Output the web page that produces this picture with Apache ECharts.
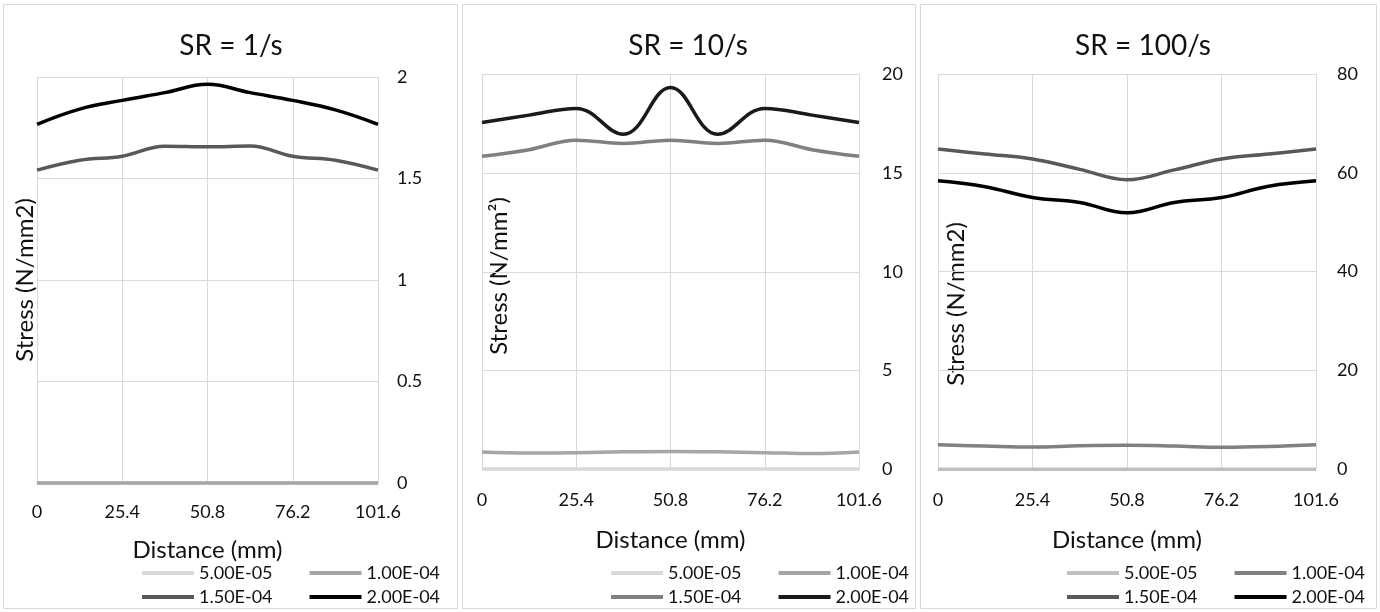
<!DOCTYPE html>
<html>
<head>
<meta charset="utf-8">
<script src="https://cdn.jsdelivr.net/npm/echarts@6/dist/echarts.min.js"></script>
<style>
html,body{margin:0;padding:0;background:#fff;}
#chart{width:1380px;height:612px;}
</style>
</head>
<body>
<div id="chart"></div>
<script>
// ---- data ----
var xValues = [0, 12.7, 25.4, 38.1, 50.8, 63.5, 76.2, 88.9, 101.6];
var xTicks = ['0', '25.4', '50.8', '76.2', '101.6'];
var seriesNames = ['5.00E-05', '1.00E-04', '1.50E-04', '2.00E-04'];
var panelTitles = ['SR = 1/s', 'SR = 10/s', 'SR = 100/s'];
var yNames = ['Stress (N/mm2)', 'Stress (N/mm²)', 'Stress (N/mm2)'];
var xName = 'Distance (mm)';

// SR = 1/s
var sr1_5e5  = [0, 0, 0, 0, 0, 0, 0, 0, 0];
var sr1_1e4  = [0, 0, 0, 0, 0, 0, 0, 0, 0];
var sr1_15e4 = [1.541, 1.590, 1.610, 1.659, 1.656, 1.660, 1.610, 1.590, 1.541];
var sr1_2e4  = [1.767, 1.842, 1.885, 1.923, 1.964, 1.923, 1.885, 1.838, 1.767];
// SR = 10/s
var sr10_5e5  = [0, 0, 0, 0, 0, 0, 0, 0, 0];
var sr10_1e4  = [0.86, 0.81, 0.83, 0.87, 0.89, 0.87, 0.83, 0.78, 0.86];
var sr10_15e4 = [15.85, 16.19, 16.67, 16.50, 16.67, 16.50, 16.67, 16.19, 15.85];
var sr10_2e4  = [17.57, 17.94, 18.28, 16.97, 19.34, 16.97, 18.28, 17.94, 17.57];
// SR = 100/s
var sr100_5e5  = [0, 0, 0, 0, 0, 0, 0, 0, 0];
var sr100_1e4  = [4.97, 4.7, 4.5, 4.75, 4.85, 4.7, 4.45, 4.6, 4.97];
var sr100_15e4 = [64.8, 63.8, 62.8, 60.7, 58.6, 60.6, 62.8, 63.8, 64.8];
var sr100_2e4  = [58.4, 57.2, 55.0, 54.0, 51.9, 54.0, 55.0, 57.3, 58.4];

var yMax = [2, 20, 80];
var yInterval = [0.5, 5, 20];

// ---- styling / layout ----
var FONT = 'Lato';
var panelData = [
  [sr1_5e5, sr1_1e4, sr1_15e4, sr1_2e4],
  [sr10_5e5, sr10_1e4, sr10_15e4, sr10_2e4],
  [sr100_5e5, sr100_1e4, sr100_15e4, sr100_2e4]
];
var panelColors = [
  ['#d9d9d9', '#a6a6a6', '#595959', '#000000'],
  ['#d9d9d9', '#a6a6a6', '#808080', '#1a1a1a'],
  ['#bfbfbf', '#808080', '#595959', '#000000']
];
var grids = [
  {left: 37, top: 77, width: 341, height: 406},
  {left: 482, top: 74.5, width: 377, height: 394.5},
  {left: 938, top: 74, width: 378, height: 395.3}
];
var frames = [
  {x: 3.5, y: 4.5, width: 454, height: 604},
  {x: 462.5, y: 4.5, width: 453, height: 604},
  {x: 920.5, y: 4.5, width: 456, height: 604}
];
var titleX = [231, 688, 1143];
var yNamePos = [[25, 280], [499, 276], [956, 304]];
var legendLeft = [142, 611, 1067];
var xNameGap = [55, 59, 59];
var xLabelMargin = [20, 22, 22];
var yLabelMargin = [19, 23, 21];

function pair(xs, ys) { return xs.map(function (x, i) { return [x, ys[i]]; }); }

var option = {
  backgroundColor: '#fff',
  animation: false,
  title: [], grid: [], xAxis: [], yAxis: [], series: [], legend: [], graphic: []
};

for (var p = 0; p < 3; p++) {
  option.graphic.push({
    type: 'rect', shape: frames[p], silent: true,
    style: {fill: 'none', stroke: '#d9d9d9', lineWidth: 1}
  });
  option.graphic.push({
    type: 'text', x: yNamePos[p][0], y: yNamePos[p][1], rotation: Math.PI / 2,
    style: {text: yNames[p], font: '24px ' + FONT, fill: '#111', textAlign: 'center', textVerticalAlign: 'middle'}
  });
  option.title.push({
    text: panelTitles[p], left: titleX[p], top: 31, textAlign: 'center', padding: 0,
    textStyle: {fontFamily: FONT, fontSize: 28, fontWeight: 'normal', color: '#111', lineHeight: 30}
  });
  option.grid.push(grids[p]);
  option.xAxis.push({
    type: 'value', gridIndex: p, min: 0, max: 101.6, interval: 25.4,
    name: xName, nameLocation: 'middle', nameGap: xNameGap[p],
    nameTextStyle: {fontFamily: FONT, fontSize: 24, color: '#111'},
    axisLine: {show: true, lineStyle: {color: '#d9d9d9', width: 1}},
    axisTick: {show: false},
    axisLabel: {
      margin: xLabelMargin[p], fontFamily: FONT, fontSize: 18, color: '#111',
      formatter: function (v) {
        var r = Math.round(v * 10) / 10;
        var idx = [0, 25.4, 50.8, 76.2, 101.6].indexOf(r);
        return idx >= 0 ? xTicks[idx] : String(r);
      }
    },
    splitLine: {show: true, lineStyle: {color: '#d9d9d9', width: 1}}
  });
  option.yAxis.push({
    type: 'value', gridIndex: p, position: 'right', min: 0, max: yMax[p], interval: yInterval[p],
    axisLine: {show: false}, axisTick: {show: false},
    axisLabel: {margin: yLabelMargin[p], fontFamily: FONT, fontSize: 18, color: '#111'},
    splitLine: {show: true, lineStyle: {color: '#d9d9d9', width: 1}}
  });
  for (var s = 0; s < 4; s++) {
    option.series.push({
      type: 'line', name: seriesNames[s], xAxisIndex: p, yAxisIndex: p,
      data: pair(xValues, panelData[p][s]),
      smooth: 0.4, symbol: 'none', showSymbol: false, clip: false,
      lineStyle: {color: panelColors[p][s], width: 3.5},
      itemStyle: {color: panelColors[p][s]},
      z: 2 + s
    });
  }
  for (var r = 0; r < 2; r++) {
    option.legend.push({
      left: legendLeft[p], top: 563 + r * 24, padding: 0,
      orient: 'horizontal', icon: 'rect', itemWidth: 52, itemHeight: 4, itemGap: 37,
      selectedMode: false,
      textStyle: {fontFamily: FONT, fontSize: 18, color: '#111', lineHeight: 20},
      data: [0, 1].map(function (k) {
        var idx = r * 2 + k;
        return {name: seriesNames[idx], itemStyle: {color: panelColors[p][idx]}};
      })
    });
  }
}

var chart = echarts.init(document.getElementById('chart'), null, {renderer: 'canvas'});
chart.setOption(option);
</script>
</body>
</html>
